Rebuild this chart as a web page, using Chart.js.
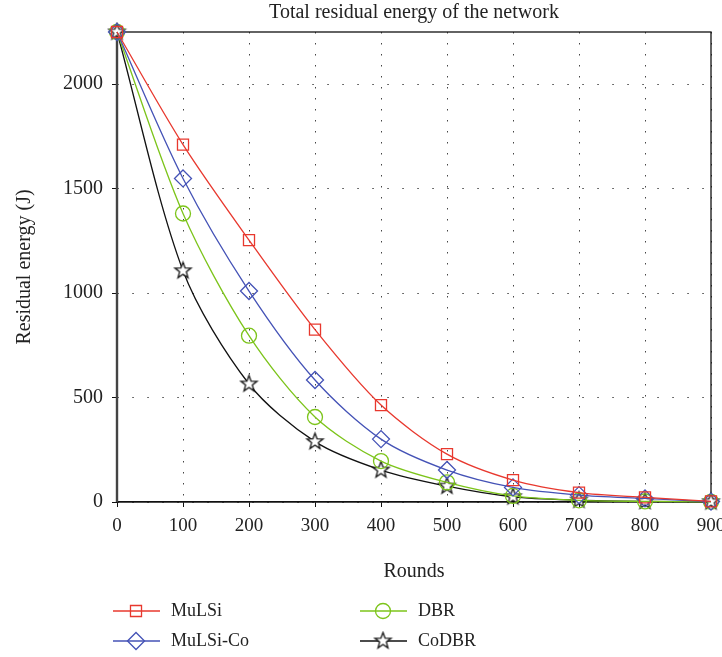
<!DOCTYPE html>
<html>
<head>
<meta charset="utf-8">
<script src="https://cdn.jsdelivr.net/npm/chart.js@4/dist/chart.umd.min.js"></script>
<style>
  html, body { margin: 0; padding: 0; background: #fff; }
  #wrap { width: 722px; height: 657px; position: relative; }
</style>
</head>
<body>
<div id="wrap"><canvas id="chart" width="722" height="657"></canvas></div>
<script>
// data
const rounds = [0, 100, 200, 300, 400, 500, 600, 700, 800, 900];
const mulsi = [2250, 1711, 1254, 825, 464, 229, 105, 45, 22, 3];
const mulsiCo = [2250, 1549, 1010, 584, 301, 153, 70, 33, 17, 2];
const dbr = [2250, 1381, 796, 407, 196, 94, 29, 8, 3, 1];
const codbr = [2250, 1107, 565, 289, 153, 76, 25, 9, 3, 1];
const yTicks = [0, 500, 1000, 1500, 2000];

const FONT = "'Liberation Serif', 'DejaVu Serif', serif";
const TXT = "#222";

// five point star marker (chart.js 'star' is an asterisk)
function makeStar(r, color) {
    const c = document.createElement("canvas");
    const s = Math.ceil(r * 2 + 4);
    c.width = s; c.height = s;
    const g = c.getContext("2d");
    g.strokeStyle = color;
    g.lineWidth = 1.3;
    g.beginPath();
    for (let i = 0; i < 10; i++) {
        const rr = i % 2 === 0 ? r : r * 0.42;
        const a = -Math.PI / 2 + i * Math.PI / 5;
        const px = s / 2 + rr * Math.cos(a), py = s / 2 + rr * Math.sin(a);
        if (i === 0) g.moveTo(px, py); else g.lineTo(px, py);
    }
    g.closePath();
    g.fillStyle = "#fff";
    g.fill();
    g.stroke();
    return c;
}
const starImg = makeStar(8.5, "#111");

function pts(arr) {
    return arr.map((v, i) => ({ x: rounds[i], y: v }));
}

function series(label, arr, color, style, radius) {
    return {
        label: label,
        data: pts(arr),
        borderColor: color,
        backgroundColor: "rgba(0,0,0,0)",
        borderWidth: 1.3,
        pointStyle: style,
        pointRadius: radius,
        pointBorderColor: color,
        pointBorderWidth: 1.3,
        pointBackgroundColor: "rgba(0,0,0,0)",
        tension: 0.3,
        clip: false
    };
}

const datasets = [
    series("MuLSi", mulsi, "#e8382e", "rect", 7.8),
    series("MuLSi-Co", mulsiCo, "#4452b6", "rectRot", 8.5),
    series("DBR", dbr, "#7cc41a", "circle", 7.5),
    series("CoDBR", codbr, "#111111", starImg, 8.5)
];

// frame + title + legend
const extras = {
    id: "extras",
    beforeDatasetsDraw(chart) {
        const { ctx, chartArea: a } = chart;
        ctx.save();
        ctx.strokeStyle = "#111";
        ctx.lineWidth = 1.3;
        ctx.strokeRect(a.left, a.top, a.right - a.left, a.bottom - a.top);
        // left axis looks heavier in the figure
        ctx.strokeStyle = "#444";
        ctx.lineWidth = 2.4;
        ctx.beginPath();
        ctx.moveTo(a.left, a.top);
        ctx.lineTo(a.left, a.bottom);
        ctx.stroke();
        ctx.restore();
    },
    afterDraw(chart) {
        const { ctx, chartArea: a } = chart;
        ctx.save();
        ctx.fillStyle = TXT;
        ctx.font = "20px " + FONT;
        ctx.textAlign = "center";
        ctx.textBaseline = "middle";
        ctx.fillText("Total residual energy of the network", (a.left + a.right) / 2, 13);

        // legend in two columns
        ctx.font = "18px " + FONT;
        const spots = [
            { x: 113, y: 611 }, { x: 113, y: 641 },
            { x: 360, y: 611 }, { x: 360, y: 641 }
        ];
        chart.data.datasets.forEach((ds, i) => {
            const p = spots[i];
            ctx.strokeStyle = ds.borderColor;
            ctx.fillStyle = "rgba(0,0,0,0)";
            ctx.lineWidth = 1.3;
            ctx.beginPath();
            ctx.moveTo(p.x, p.y);
            ctx.lineTo(p.x + 47, p.y);
            ctx.stroke();
            Chart.helpers.drawPoint(ctx, {
                pointStyle: ds.pointStyle,
                radius: ds.pointRadius,
                borderWidth: 1.3,
                rotation: 0
            }, p.x + 23, p.y);
            ctx.fillStyle = TXT;
            ctx.textAlign = "left";
            ctx.fillText(ds.label, p.x + 58, p.y);
        });
        ctx.restore();
    }
};

new Chart(document.getElementById("chart"), {
    type: "line",
    data: { datasets: datasets },
    options: {
        responsive: false,
        animation: false,
        layout: { padding: { left: 0, top: 32, right: 11, bottom: 73 } },
        plugins: {
            legend: { display: false },
            title: { display: false },
            tooltip: { enabled: false }
        },
        scales: {
            x: {
                type: "linear",
                min: 0,
                max: 900,
                afterFit(s) { s.height = 82; s.paddingRight = 2; },
                ticks: {
                    stepSize: 100, color: TXT, font: { family: FONT, size: 19 }, padding: 8,
                    callback: v => String(v)
                },
                grid: { color: "#444", lineWidth: 1, tickColor: "#111", tickLength: 5 },
                border: { display: true, color: "#111", width: 1.3, dash: [1.5, 9.5] },
                title: {
                    display: true, text: "Rounds", color: TXT,
                    font: { family: FONT, size: 20 }, padding: { top: 4, bottom: 0 }
                }
            },
            y: {
                type: "linear",
                min: 0,
                max: 2250,
                afterFit(s) { s.width = 117; },
                afterBuildTicks(s) { s.ticks = yTicks.map(v => ({ value: v })); },
                ticks: {
                    color: TXT, font: { family: FONT, size: 20 }, padding: 9,
                    callback: v => String(v)
                },
                grid: { color: "#444", lineWidth: 1, tickColor: "#111", tickLength: 5 },
                border: { display: true, color: "#111", width: 1.3, dash: [1.5, 13.5] },
                title: {
                    display: true, text: "Residual energy (J)", color: TXT,
                    font: { family: FONT, size: 20 }, padding: { top: 13, bottom: 0 }
                }
            }
        }
    },
    plugins: [extras]
});
</script>
</body>
</html>
